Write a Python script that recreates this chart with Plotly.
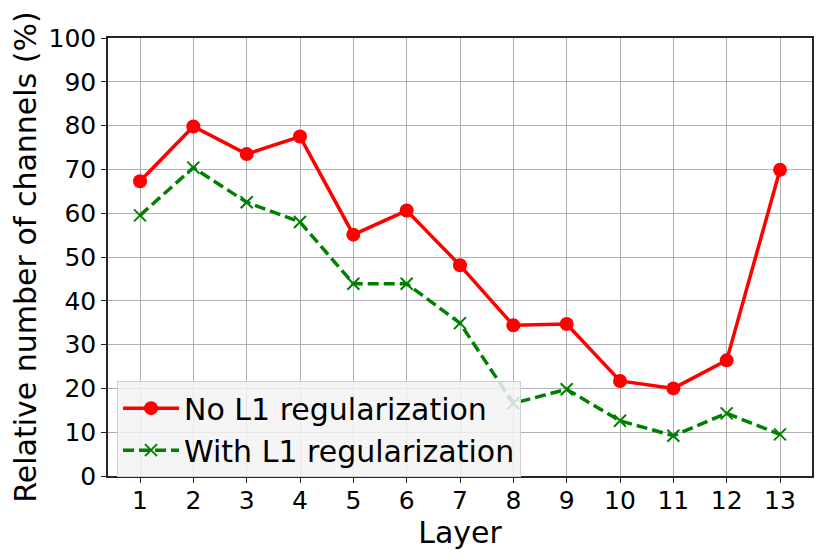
import plotly.graph_objects as go

# 数据
layers = list(range(1, 14))
no_l1 = [67.3, 79.8, 73.5, 77.5, 55.1, 60.6, 48.1, 34.4, 34.7, 21.7, 20.0, 26.4, 69.9]
with_l1 = [59.5, 70.4, 62.5, 58.0, 43.9, 43.9, 34.9, 16.6, 19.8, 12.6, 9.2, 14.3, 9.5]
y_ticks = list(range(0, 101, 10))

FONT = "DejaVu Sans"

fig = go.Figure()

fig.add_trace(go.Scatter(
    x=layers, y=no_l1,
    mode="lines+markers",
    name="No L1 regularization",
    line=dict(color="red", width=3.5),
    marker=dict(symbol="circle", size=14, color="red"),
))

fig.add_trace(go.Scatter(
    x=layers, y=with_l1,
    mode="lines+markers",
    name="With L1 regularization",
    line=dict(color="green", width=3.5, dash="11px,5px"),
    marker=dict(symbol="x-thin", size=12, color="green",
                line=dict(color="green", width=2)),
))

axis_style = dict(
    showgrid=True, gridcolor="#b0b0b0", gridwidth=1,
    showline=True, linecolor="#262626", linewidth=1.5, mirror=True,
    ticks="outside", ticklen=5, tickcolor="#262626",
    tickfont=dict(family=FONT, size=25, color="black"),
    zeroline=False, automargin=False,
)

fig.update_xaxes(
    range=[0.4, 13.6], tickvals=layers, ticklabelstandoff=-4,
    title=dict(text="Layer", font=dict(family=FONT, size=30, color="black"), standoff=0),
    **axis_style,
)
fig.update_yaxes(
    range=[0, 100], tickvals=y_ticks,
    title=dict(text="Relative number of channels (%)",
               font=dict(family=FONT, size=30, color="black"), standoff=10),
    **axis_style,
)

# 页面自带 8px 边距，图整体缩小以放进窗口
fig.update_layout(
    width=823, height=552,
    margin=dict(l=100, r=19, t=30, b=84),
    plot_bgcolor="white", paper_bgcolor="white",
    font=dict(family=FONT, color="black"),
    legend=dict(
        x=0.0128, y=0.107, xanchor="left", yanchor="middle",
        bgcolor="rgba(243,243,243,0.85)", bordercolor="#d0d0d0", borderwidth=1,
        font=dict(family=FONT, size=30, color="black"),
        itemwidth=56, tracegroupgap=0,
    ),
    showlegend=True,
)

fig.write_html("out.html")
